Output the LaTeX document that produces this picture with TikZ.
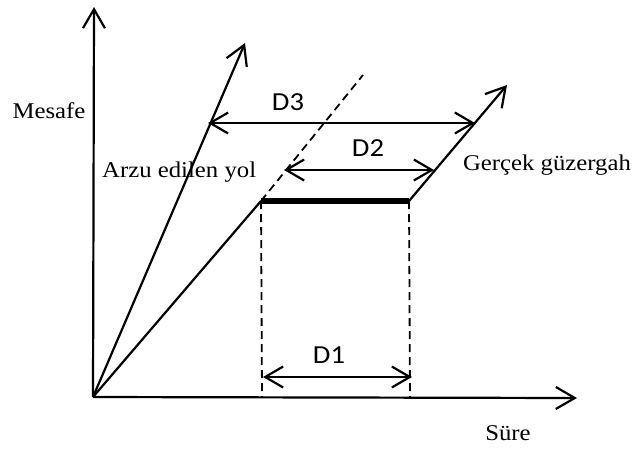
\documentclass[tikz,border=0pt]{standalone}
\usepackage{fontspec}
\usetikzlibrary{arrows.meta}
\newfontfamily\tnrfont[FakeStretch=1.1]{Liberation Serif}
\newfontfamily\carfont[FakeStretch=1.1]{Carlito}
\begin{document}
\begin{tikzpicture}[x=1pt,y=-1pt,
  ln/.style={line width=2.2pt},
  tip/.style={-{Straight Barb[length=19pt,width=22pt,line width=2.2pt]}},
  both/.style={{Straight Barb[length=18pt,width=21pt,line width=2.2pt]}-{Straight Barb[length=18pt,width=21pt,line width=2.2pt]}},
  dsh/.style={line width=1.8pt,dash pattern=on 8pt off 5pt},
  lab/.style={font=\tnrfont\fontsize{22.5}{26}\selectfont,inner sep=0pt},
  dlab/.style={font=\carfont\fontsize{26}{30}\selectfont,inner sep=0pt}]
\useasboundingbox (0,0) rectangle (635,448);
\coordinate (O) at (93,397);
\coordinate (Y) at (94,7);
\coordinate (X) at (577,398);
\coordinate (A) at (245,43);
\coordinate (P) at (261,201);
\coordinate (Q) at (409,201);
\coordinate (R) at (507,85);
\coordinate (T) at (363,75);
\coordinate (P0) at (262,397);
\coordinate (Q0) at (410,397);
\coordinate (D3a) at (208,123);
\coordinate (D3b) at (475,123);
\coordinate (D2a) at (284,170);
\coordinate (D2b) at (434,170);
\coordinate (D1a) at (263,377);
\coordinate (D1b) at (412,377);
% axes
\draw[ln,tip] (O) -- (Y);
\draw[ln,tip] (O) -- (X);
% desired path
\draw[ln,tip] (O) -- (A);
% actual path
\draw[ln] (O) -- (P);
\draw[line width=6pt] (P) -- (Q);
\draw[ln,tip] (Q) -- (R);
\draw[dsh] (P) -- (T);
\draw[dsh] (P) -- (P0);
\draw[dsh] (Q) -- (Q0);
% dimension arrows
\draw[ln,both] (D3a) -- (D3b);
\draw[ln,both] (D2a) -- (D2b);
\draw[ln,both] (D1a) -- (D1b);
% labels
\node[dlab] (d3) at (288,102) {D3};
\node[dlab] (d2) at (368,148) {D2};
\node[dlab] (d1) at (329,355) {D1};
\node[lab] (mes) at (49,111) {Mesafe};
\node[lab,anchor=base west] (arzu) at (102,177) {Arzu edilen yol};
\node[lab] (ger) at (547,165) {Gerçek güzergah};
\node[lab] (sure) at (508,433) {Süre};
\end{tikzpicture}
\end{document}
